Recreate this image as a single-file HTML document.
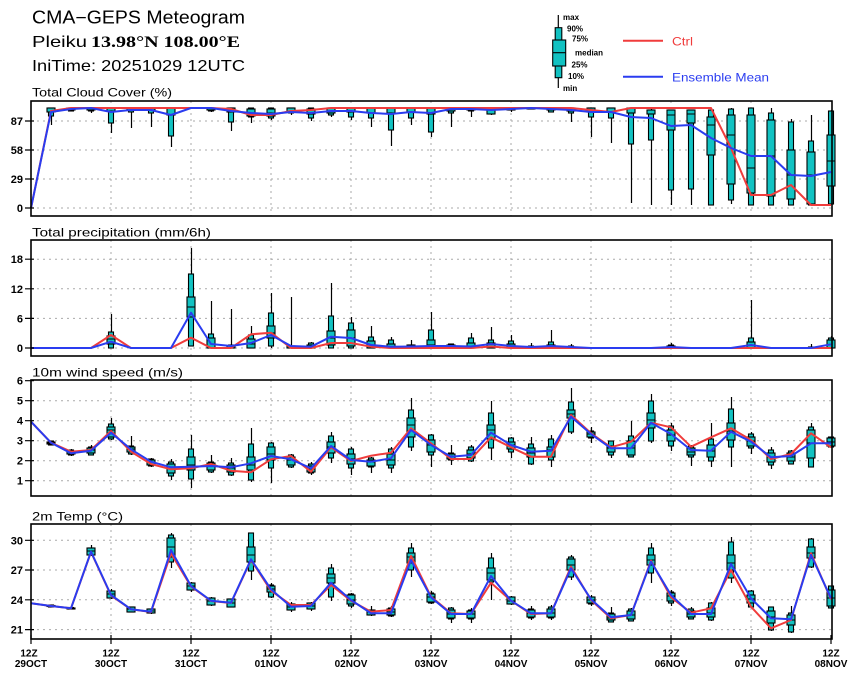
<!DOCTYPE html>
<html><head><meta charset="utf-8"><style>
html,body{margin:0;padding:0;background:#fff;}
svg{display:block;}
text{font-family:"Liberation Sans",Arial,sans-serif;fill:#000;}
.yl{font-size:11px;font-weight:bold;text-anchor:end;}
.xl{font-size:10px;font-weight:bold;text-anchor:middle;}
.pt{font-size:12px;}
.lg{font-size:8px;font-weight:bold;}
.g{stroke:#aaa;stroke-width:1;stroke-dasharray:2 4;fill:none;}
.w{stroke:#000;stroke-width:1.2;fill:none;}
.b rect{fill:#12c2c2;stroke:#000;stroke-width:1.1;}
.m{stroke:#000;stroke-width:1.1;fill:none;}
.r{stroke:#f03c3c;stroke-width:2;fill:none;stroke-linejoin:round;}
.bl{stroke:#2a3cf0;stroke-width:2;fill:none;stroke-linejoin:round;}
.fr{fill:none;stroke:#000;stroke-width:1.6;}
</style></head><body>
<svg width="860" height="678" viewBox="0 0 860 678" xmlns="http://www.w3.org/2000/svg">
<rect width="860" height="678" fill="#fff"/>
<!-- Titles -->
<text x="32" y="23.5" font-size="18" textLength="213" lengthAdjust="spacingAndGlyphs">CMA−GEPS Meteogram</text>
<text x="32" y="47" font-size="16" textLength="55" lengthAdjust="spacingAndGlyphs">Pleiku</text>
<text x="91" y="47" font-size="16" font-weight="bold" style="font-family:'Liberation Serif',serif" textLength="149" lengthAdjust="spacingAndGlyphs">13.98°N 108.00°E</text>
<text x="32" y="71" font-size="16" textLength="213" lengthAdjust="spacingAndGlyphs">IniTime: 20251029 12UTC</text>

<!-- Legend -->
<line x1="558.3" y1="15" x2="558.3" y2="88" class="w"/>
<g class="b"><rect x="555.2" y="27.7" width="6.6" height="50"/><rect x="552.7" y="40" width="13" height="26"/></g>
<line x1="552.7" y1="52.7" x2="565.7" y2="52.7" class="m"/>
<text class="lg" x="563" y="20">max</text>
<text class="lg" x="567" y="31.5">90%</text>
<text class="lg" x="572" y="41.5">75%</text>
<text class="lg" x="575" y="55.5">median</text>
<text class="lg" x="571.5" y="67.5">25%</text>
<text class="lg" x="568" y="79">10%</text>
<text class="lg" x="563" y="91">min</text>
<line x1="623" y1="40.7" x2="663" y2="40.7" class="r"/>
<text x="672" y="45.5" font-size="12" style="fill:#f03c3c" textLength="21" lengthAdjust="spacingAndGlyphs">Ctrl</text>
<line x1="623" y1="76.7" x2="663" y2="76.7" class="bl"/>
<text x="672" y="81.5" font-size="12" style="fill:#2a3cf0" textLength="97" lengthAdjust="spacingAndGlyphs">Ensemble Mean</text>

<!-- Panel titles -->
<text class="pt" x="32" y="96.5" textLength="140" lengthAdjust="spacingAndGlyphs">Total Cloud Cover (%)</text>
<text class="pt" x="32" y="236.5" textLength="179" lengthAdjust="spacingAndGlyphs">Total precipitation (mm/6h)</text>
<text class="pt" x="32" y="376.5" textLength="151" lengthAdjust="spacingAndGlyphs">10m wind speed (m/s)</text>
<text class="pt" x="32" y="520.5" textLength="91" lengthAdjust="spacingAndGlyphs">2m Temp (°C)</text>

<!-- Grids -->
<path class="g" d="M111 101V216M191 101V216M271 101V216M351 101V216M431 101V216M511 101V216M591 101V216M671 101V216M751 101V216
M31 121H832M31 150H832M31 179H832M31 208H832"/>
<path class="g" d="M111 240V356M191 240V356M271 240V356M351 240V356M431 240V356M511 240V356M591 240V356M671 240V356M751 240V356
M31 259.2H832M31 288.8H832M31 318.4H832M31 348H832"/>
<path class="g" d="M111 380V496M191 380V496M271 380V496M351 380V496M431 380V496M511 380V496M591 380V496M671 380V496M751 380V496
M31 400.7H832M31 420.7H832M31 440.7H832M31 460.7H832M31 480.7H832"/>
<path class="g" d="M111 524V639M191 524V639M271 524V639M351 524V639M431 524V639M511 524V639M591 524V639M671 524V639M751 524V639
M31 540.3H832M31 570H832M31 599.8H832M31 629.6H832"/>

<!-- Panel 1 boxes -->
<path class="w" transform="translate(0.5,0)" d="M51 108V125M71 108V111M91 108V113M111 108V133M131 108V128M151 108V127M171 108V147M211 108V112M231 108V131M251 108V123M271 108V120M291 108V115M311 108V121M331 108V117M351 108V120M371 108V127M391 108V146M411 108V125M431 108V137M451 108V127M471 108V117M491 108V115M511 108V112M531 108V109M551 108V112M571 108V122M591 108V137M611 108V143M631 108V203M651 108V205M671 110V205M691 110V205M711 110V205M731 108V204M751 108V205M771 108V205M791 119V205M811 115V205M831 110V204"/>
<g class="b">
<rect x="48.5" y="108" width="5" height="8"/><rect x="68.5" y="108" width="5" height="3"/><rect x="88.5" y="108" width="5" height="3"/><rect x="108.5" y="108" width="5" height="15"/><rect x="128.5" y="108" width="5" height="4"/><rect x="148.5" y="108" width="5" height="5"/><rect x="168.5" y="108" width="5" height="28"/><rect x="208.5" y="108" width="5" height="3"/><rect x="228.5" y="108" width="5" height="14"/><rect x="248.5" y="108" width="5" height="9"/><rect x="268.5" y="108" width="5" height="10"/><rect x="288.5" y="108" width="5" height="5"/><rect x="308.5" y="108" width="5" height="10"/><rect x="328.5" y="108" width="5" height="7"/><rect x="348.5" y="108" width="5" height="9"/><rect x="368.5" y="108" width="5" height="10"/><rect x="388.5" y="108" width="5" height="22"/><rect x="408.5" y="108" width="5" height="10"/><rect x="428.5" y="108" width="5" height="24"/><rect x="448.5" y="108" width="5" height="5"/><rect x="468.5" y="108" width="5" height="3"/><rect x="488.5" y="108" width="5" height="6"/><rect x="508.5" y="108" width="5" height="2"/><rect x="528.5" y="108" width="5" height="1"/><rect x="548.5" y="108" width="5" height="4"/><rect x="568.5" y="108" width="5" height="5"/><rect x="588.5" y="108" width="5" height="9"/><rect x="608.5" y="108" width="5" height="10"/><rect x="628.5" y="108" width="5" height="36"/><rect x="648.5" y="110" width="5" height="30"/><rect x="668.5" y="110" width="5" height="80"/><rect x="688.5" y="110" width="5" height="79"/><rect x="708.5" y="110" width="5" height="95"/><rect x="728.5" y="109" width="5" height="91"/><rect x="748.5" y="108" width="5" height="97"/><rect x="768.5" y="113" width="5" height="92"/><rect x="788.5" y="122" width="5" height="83"/><rect x="808.5" y="141" width="5" height="64"/><rect x="828.5" y="111" width="5" height="93"/>
<rect x="47" y="108" width="8" height="4"/><rect x="67" y="108" width="8" height="2"/><rect x="87" y="108" width="8" height="2"/><rect x="107" y="108" width="8" height="3"/><rect x="127" y="108" width="8" height="2"/><rect x="147" y="108" width="8" height="2"/><rect x="167" y="108" width="8" height="7"/><rect x="207" y="108" width="8" height="2"/><rect x="227" y="108" width="8" height="4"/><rect x="247" y="109" width="8" height="7"/><rect x="267" y="109" width="8" height="7"/><rect x="287" y="108" width="8" height="4"/><rect x="307" y="109" width="8" height="5"/><rect x="327" y="108" width="8" height="5"/><rect x="347" y="108" width="8" height="4"/><rect x="367" y="108" width="8" height="5"/><rect x="387" y="108" width="8" height="5"/><rect x="407" y="108" width="8" height="4"/><rect x="427" y="108" width="8" height="6"/><rect x="447" y="108" width="8" height="3"/><rect x="467" y="108" width="8" height="2"/><rect x="487" y="109" width="8" height="5"/><rect x="507" y="108" width="8" height="2"/><rect x="527" y="108" width="8" height="1"/><rect x="547" y="108" width="8" height="2"/><rect x="567" y="108" width="8" height="3"/><rect x="587" y="108" width="8" height="4"/><rect x="607" y="108" width="8" height="4"/><rect x="627" y="108" width="8" height="5"/><rect x="647" y="110" width="8" height="4"/><rect x="667" y="110" width="8" height="20"/><rect x="687" y="110" width="8" height="13"/><rect x="707" y="117" width="8" height="38"/><rect x="727" y="115" width="8" height="69"/><rect x="747" y="115" width="8" height="78"/><rect x="767" y="120" width="8" height="76"/><rect x="787" y="150" width="8" height="49"/><rect x="807" y="152" width="8" height="52"/><rect x="827" y="135" width="8" height="51"/>
</g>
<path class="m" d="M247 113h8M267 113h8M667 115h8M687 114h8M707 125h8M727 135h8M747 168h8M767 156h8M787 175h8M807 175h8M827 161h8"/>
<polyline class="r" points="31,208 51,111 71,108 91,108 111,108 131,108 151,108 171,108 191,108 211,108 231,109 251,115 271,115 291,111 311,110 331,108 351,108 371,108 391,108 411,108 431,108 451,108 471,108 491,108 511,108 531,108 551,108 571,108 591,110 611,112 631,108 651,108 671,108 691,108 711,108 731,148 751,195 771,195 791,185 811,205 831,205"/>
<polyline class="bl" points="31,208 51,112 71,109 91,108 111,112 131,110 151,110 171,115 191,108 211,108 231,111 251,113 271,114 291,112 311,113 331,111 351,111 371,113 391,114 411,112 431,113 451,109 471,109 491,110 511,109 531,108 551,109 571,110 591,112 611,112 631,117 651,118 671,126 691,125 711,138 731,148 751,156 771,156 791,175 811,176 831,172"/>

<!-- Panel 2 boxes -->
<path class="w" transform="translate(0.5,0)" d="M111 314V348M191 248V346M211 301V348M231 309V348M251 326V348M271 293V348M291 297V348M311 342V348M331 283V348M351 317V348M371 326V348M391 337V348M411 340V348M431 312V348M451 344V348M471 333V348M491 327V348M511 335V348M531 343V348M551 330V348M571 344V348M671 343V348M751 300V348M811 344V348M831 336V348"/>
<g class="b">
<rect x="108.5" y="332" width="5" height="16"/><rect x="188.5" y="274" width="5" height="72"/><rect x="208.5" y="334" width="5" height="14"/><rect x="228.5" y="345" width="5" height="3"/><rect x="248.5" y="335" width="5" height="13"/><rect x="268.5" y="313" width="5" height="33"/><rect x="288.5" y="346" width="5" height="2"/><rect x="308.5" y="343" width="5" height="5"/><rect x="328.5" y="316" width="5" height="32"/><rect x="348.5" y="323" width="5" height="25"/><rect x="368.5" y="337" width="5" height="11"/><rect x="388.5" y="340" width="5" height="8"/><rect x="408.5" y="345" width="5" height="3"/><rect x="428.5" y="330" width="5" height="18"/><rect x="448.5" y="344" width="5" height="4"/><rect x="468.5" y="338" width="5" height="10"/><rect x="488.5" y="340" width="5" height="8"/><rect x="508.5" y="341" width="5" height="7"/><rect x="528.5" y="346" width="5" height="2"/><rect x="548.5" y="342" width="5" height="6"/><rect x="568.5" y="346" width="5" height="2"/><rect x="668.5" y="345" width="5" height="3"/><rect x="748.5" y="338" width="5" height="10"/><rect x="808.5" y="347" width="5" height="1"/><rect x="828.5" y="338" width="5" height="10"/>
<rect x="107" y="336" width="8" height="8"/><rect x="187" y="297" width="8" height="20"/><rect x="207" y="338" width="8" height="10"/><rect x="227" y="346" width="8" height="2"/><rect x="247" y="339" width="8" height="9"/><rect x="267" y="326" width="8" height="12"/><rect x="287" y="346" width="8" height="2"/><rect x="307" y="345" width="8" height="3"/><rect x="327" y="331" width="8" height="14"/><rect x="347" y="330" width="8" height="16"/><rect x="367" y="341" width="8" height="7"/><rect x="387" y="344" width="8" height="4"/><rect x="407" y="345" width="8" height="3"/><rect x="427" y="340" width="8" height="8"/><rect x="447" y="345" width="8" height="3"/><rect x="467" y="343" width="8" height="5"/><rect x="487" y="343" width="8" height="5"/><rect x="507" y="344" width="8" height="4"/><rect x="527" y="347" width="8" height="1"/><rect x="547" y="345" width="8" height="3"/><rect x="567" y="347" width="8" height="1"/><rect x="667" y="346" width="8" height="2"/><rect x="747" y="342" width="8" height="6"/><rect x="827" y="340" width="8" height="8"/>
</g>
<path class="m" d="M107 339h8M187 307h8M247 344h8M267 333h8M327 338h8M347 338h8M427 345h8"/>
<polyline class="r" points="31,348 91,348 111,335 131,348 171,348 191,337.7 211,348 231,348 251,334.3 271,332.7 291,348 311,348 331,343 351,343 371,346.7 391,348 471,348 491,346.5 511,348 831,348"/>
<polyline class="bl" points="31,348 91,348 111,341.7 131,348 171,348 191,312.7 211,344 231,346 251,343 271,335 291,346 311,346.7 331,336.7 351,338 371,345 391,346.7 411,346.5 431,346 451,346 471,346.5 491,344 511,346 531,347 551,346 571,347 591,348 651,348 671,347 691,348 731,348 751,345 771,348 811,348 831,344.3"/>

<!-- Panel 3 boxes -->
<path class="w" transform="translate(0.5,0)" d="M51 441V445M71 449V456M91 445V455M111 418V440M131 436V455M151 458V467M171 459V480M191 435V488M211 455V473M231 458V476M251 428V482M271 442V483M291 454V468M311 462V475M331 432V463M351 447V475M371 457V473M391 447V473M411 398V451M431 434V467M451 445V465M471 445V462M491 401V460M511 437V458M531 437V465M551 435V467M571 388V434M591 427V443M611 441V458M631 421V457M651 394V443M671 423V451M691 445V466M711 423V467M731 397V467M751 432V454M771 447V469M791 450V464M811 423V467M831 437V447"/>
<g class="b">
<rect x="48.5" y="441" width="5" height="4"/><rect x="68.5" y="450" width="5" height="5"/><rect x="88.5" y="447" width="5" height="8"/><rect x="108.5" y="424" width="5" height="15"/><rect x="128.5" y="446" width="5" height="8"/><rect x="148.5" y="459" width="5" height="7"/><rect x="168.5" y="462" width="5" height="14"/><rect x="188.5" y="449" width="5" height="30"/><rect x="208.5" y="462" width="5" height="10"/><rect x="228.5" y="463" width="5" height="12"/><rect x="248.5" y="444" width="5" height="36"/><rect x="268.5" y="443" width="5" height="25"/><rect x="288.5" y="455" width="5" height="12"/><rect x="308.5" y="464" width="5" height="9"/><rect x="328.5" y="436" width="5" height="22"/><rect x="348.5" y="449" width="5" height="19"/><rect x="368.5" y="458" width="5" height="9"/><rect x="388.5" y="449" width="5" height="19"/><rect x="408.5" y="410" width="5" height="37"/><rect x="428.5" y="435" width="5" height="20"/><rect x="448.5" y="453" width="5" height="7"/><rect x="468.5" y="447" width="5" height="14"/><rect x="488.5" y="413" width="5" height="35"/><rect x="508.5" y="438" width="5" height="14"/><rect x="528.5" y="444" width="5" height="20"/><rect x="548.5" y="439" width="5" height="21"/><rect x="568.5" y="402" width="5" height="30"/><rect x="588.5" y="431" width="5" height="7"/><rect x="608.5" y="441" width="5" height="14"/><rect x="628.5" y="436" width="5" height="21"/><rect x="648.5" y="401" width="5" height="40"/><rect x="668.5" y="426" width="5" height="20"/><rect x="688.5" y="446" width="5" height="11"/><rect x="708.5" y="439" width="5" height="22"/><rect x="728.5" y="409" width="5" height="38"/><rect x="748.5" y="434" width="5" height="14"/><rect x="768.5" y="450" width="5" height="15"/><rect x="788.5" y="451" width="5" height="13"/><rect x="808.5" y="427" width="5" height="40"/><rect x="828.5" y="437" width="5" height="10"/>
<rect x="47" y="442" width="8" height="2"/><rect x="67" y="451" width="8" height="3"/><rect x="87" y="448" width="8" height="5"/><rect x="107" y="427" width="8" height="10"/><rect x="127" y="447" width="8" height="5"/><rect x="147" y="460" width="8" height="5"/><rect x="167" y="464" width="8" height="9"/><rect x="187" y="457" width="8" height="13"/><rect x="207" y="463" width="8" height="7"/><rect x="227" y="465" width="8" height="7"/><rect x="247" y="457" width="8" height="13"/><rect x="267" y="447" width="8" height="13"/><rect x="287" y="457" width="8" height="8"/><rect x="307" y="466" width="8" height="6"/><rect x="327" y="442" width="8" height="11"/><rect x="347" y="454" width="8" height="10"/><rect x="367" y="460" width="8" height="6"/><rect x="387" y="454" width="8" height="11"/><rect x="407" y="418" width="8" height="19"/><rect x="427" y="440" width="8" height="12"/><rect x="447" y="454" width="8" height="5"/><rect x="467" y="450" width="8" height="8"/><rect x="487" y="425" width="8" height="14"/><rect x="507" y="442" width="8" height="7"/><rect x="527" y="448" width="8" height="9"/><rect x="547" y="447" width="8" height="10"/><rect x="567" y="410" width="8" height="8"/><rect x="587" y="432" width="8" height="5"/><rect x="607" y="446" width="8" height="6"/><rect x="627" y="441" width="8" height="14"/><rect x="647" y="413" width="8" height="15"/><rect x="667" y="430" width="8" height="11"/><rect x="687" y="448" width="8" height="7"/><rect x="707" y="445" width="8" height="12"/><rect x="727" y="423" width="8" height="17"/><rect x="747" y="437" width="8" height="9"/><rect x="767" y="453" width="8" height="9"/><rect x="787" y="453" width="8" height="8"/><rect x="807" y="430" width="8" height="28"/><rect x="827" y="438" width="8" height="8"/>
</g>
<path class="m" d="M47 443h8M67 452h8M87 450h8M107 430h8M127 449h8M147 462h8M167 467h8M187 465h8M207 466h8M227 468h8M247 465h8M267 454h8M287 460h8M307 469h8M327 447h8M347 459h8M367 462h8M387 460h8M407 425h8M427 445h8M447 456h8M467 454h8M487 430h8M507 445h8M527 453h8M547 450h8M567 414h8M587 434h8M607 448h8M627 448h8M647 420h8M667 435h8M687 452h8M707 451h8M727 431h8M747 441h8M767 457h8M787 457h8M807 443h8M827 442h8"/>
<polyline class="r" points="31,421.7 51,442.7 71,451.7 91,450 111,431 131,451.7 151,464 171,469.3 191,468.3 211,464 231,470.7 251,472.3 271,459.3 291,456 311,471.7 331,447.3 351,461 371,455.7 391,452.7 411,428.3 431,443.3 451,459 471,459 491,437.3 511,447.3 531,456.7 551,456.7 571,415 591,433.3 611,447.3 631,441.7 651,422.7 671,427.3 691,446.7 711,437.3 731,428.3 751,440 771,459 791,454 811,433.3 831,447.3"/>
<polyline class="bl" points="31,421.7 51,442.7 71,453.3 91,450.7 111,432.7 131,449.3 151,461.7 171,467.3 191,466.7 211,466 231,467.3 251,463.3 271,456 291,459.3 311,468.3 331,446 351,460 371,461.7 391,458.3 411,430 431,445 451,456.7 471,455 491,432.7 511,445 531,451.7 551,450.7 571,416.7 591,434 611,448.3 631,448.3 651,422.7 671,434 691,450 711,450.7 731,431.7 751,441.7 771,457.3 791,456 811,443.3 831,443.3"/>

<!-- Panel 4 boxes -->
<path class="w" transform="translate(0.5,0)" d="M51 605V607M71 607V609M91 545V556M111 589V599M131 607V612M151 609V614M171 533V568M191 582V592M211 597V606M231 599V607M251 533V580M271 583V598M291 602V612M311 602V611M331 564V601M351 593V608M371 606V616M391 606V617M411 543V577M431 591V604M451 607V623M471 608V623M491 553V600M511 596V605M531 606V620M551 605V620M571 555V580M591 595V606M611 607V622M631 608V621M651 543V583M671 590V606M691 607V619M711 602V621M731 537V583M751 590V608M771 607V631M791 606V633M811 538V568M831 586V608"/>
<g class="b">
<rect x="48.5" y="605" width="5" height="2"/><rect x="68.5" y="607.5" width="5" height="1.5"/><rect x="88.5" y="548" width="5" height="7"/><rect x="108.5" y="591" width="5" height="7"/><rect x="128.5" y="607" width="5" height="5"/><rect x="148.5" y="609" width="5" height="4"/><rect x="168.5" y="535" width="5" height="27"/><rect x="188.5" y="583" width="5" height="7"/><rect x="208.5" y="598" width="5" height="7"/><rect x="228.5" y="599" width="5" height="8"/><rect x="248.5" y="533" width="5" height="38"/><rect x="268.5" y="585" width="5" height="12"/><rect x="288.5" y="604" width="5" height="6"/><rect x="308.5" y="603" width="5" height="6"/><rect x="328.5" y="568" width="5" height="29"/><rect x="348.5" y="594" width="5" height="12"/><rect x="368.5" y="610" width="5" height="5"/><rect x="388.5" y="608" width="5" height="8"/><rect x="408.5" y="548" width="5" height="22"/><rect x="428.5" y="593" width="5" height="10"/><rect x="448.5" y="608" width="5" height="11"/><rect x="468.5" y="610" width="5" height="9"/><rect x="488.5" y="558" width="5" height="24"/><rect x="508.5" y="597" width="5" height="7"/><rect x="528.5" y="609" width="5" height="9"/><rect x="548.5" y="607" width="5" height="11"/><rect x="568.5" y="557" width="5" height="20"/><rect x="588.5" y="597" width="5" height="7"/><rect x="608.5" y="613" width="5" height="9"/><rect x="628.5" y="609" width="5" height="12"/><rect x="648.5" y="548" width="5" height="25"/><rect x="668.5" y="592" width="5" height="11"/><rect x="688.5" y="609" width="5" height="10"/><rect x="708.5" y="603" width="5" height="17"/><rect x="728.5" y="542" width="5" height="36"/><rect x="748.5" y="591" width="5" height="16"/><rect x="768.5" y="607" width="5" height="23"/><rect x="788.5" y="613" width="5" height="19"/><rect x="808.5" y="539" width="5" height="28"/><rect x="828.5" y="586" width="5" height="22"/>
<rect x="47" y="605.5" width="8" height="1"/><rect x="67" y="608" width="8" height="1"/><rect x="87" y="548" width="8" height="7"/><rect x="107" y="591" width="8" height="7"/><rect x="127" y="607" width="8" height="5"/><rect x="147" y="609" width="8" height="4"/><rect x="167" y="538" width="8" height="19"/><rect x="187" y="583" width="8" height="7"/><rect x="207" y="598" width="8" height="7"/><rect x="227" y="599" width="8" height="8"/><rect x="247" y="547" width="8" height="15"/><rect x="267" y="586" width="8" height="6"/><rect x="287" y="604" width="8" height="6"/><rect x="307" y="603" width="8" height="6"/><rect x="327" y="574" width="8" height="9"/><rect x="347" y="595" width="8" height="9"/><rect x="367" y="610" width="8" height="5"/><rect x="387" y="609" width="8" height="6"/><rect x="407" y="553" width="8" height="10"/><rect x="427" y="594" width="8" height="8"/><rect x="447" y="610" width="8" height="8"/><rect x="467" y="611" width="8" height="7"/><rect x="487" y="568" width="8" height="12"/><rect x="507" y="597" width="8" height="7"/><rect x="527" y="610" width="8" height="7"/><rect x="547" y="609" width="8" height="8"/><rect x="567" y="559" width="8" height="11"/><rect x="587" y="597" width="8" height="6"/><rect x="607" y="614" width="8" height="6"/><rect x="627" y="611" width="8" height="8"/><rect x="647" y="555" width="8" height="10"/><rect x="667" y="593" width="8" height="8"/><rect x="687" y="611" width="8" height="6"/><rect x="707" y="608" width="8" height="9"/><rect x="727" y="555" width="8" height="15"/><rect x="747" y="595" width="8" height="8"/><rect x="767" y="611" width="8" height="12"/><rect x="787" y="615" width="8" height="10"/><rect x="807" y="547" width="8" height="11"/><rect x="827" y="590" width="8" height="16"/>
</g>
<path class="m" d="M87 551h8M107 594h8M127 609h8M147 611h8M167 547h8M187 586h8M207 601h8M227 603h8M247 555h8M267 589h8M287 607h8M307 606h8M327 578h8M347 600h8M367 612h8M387 612h8M407 557h8M427 597h8M447 614h8M467 614h8M487 573h8M507 601h8M527 613h8M547 613h8M567 565h8M587 600h8M607 618h8M627 615h8M647 560h8M667 596h8M687 614h8M707 613h8M727 563h8M747 599h8M767 617h8M787 620h8M807 553h8M827 598h8"/>
<polyline class="r" points="31,603.3 51,606 71,608.3 91,552 111,595.5 131,609.3 151,612 171,553.3 191,586.5 211,601 231,603 251,560 271,590.7 291,605 311,605 331,585 351,600.7 371,611.7 391,610 411,556 431,596.7 451,613.3 471,614 491,582.7 511,600.7 531,614 551,613.3 571,566.7 591,600 611,618.3 631,615 651,560.7 671,597.3 691,612.7 711,608.3 731,570 751,606.7 771,628.3 791,620 811,553.3 831,599.3"/>
<polyline class="bl" points="31,603.3 51,606 71,608.3 91,551.7 111,595 131,609.3 151,611.7 171,550 191,586 211,600.7 231,602.7 251,559.3 271,589.3 291,606.7 311,606 331,582.7 351,600 371,613.3 391,613.3 411,560 431,597.3 451,614 471,614 491,576 511,600.7 531,613.3 551,613.3 571,568.3 591,599.3 611,617.3 631,615 651,561.7 671,595 691,614 711,614 731,564 751,598.3 771,618.3 791,619.3 811,555 831,598.3"/>

<!-- Frames -->
<rect class="fr" x="31" y="101" width="801" height="115"/>
<rect class="fr" x="31" y="240" width="801" height="116"/>
<rect class="fr" x="31" y="380" width="801" height="116"/>
<rect class="fr" x="31" y="524" width="801" height="115"/>

<!-- Y ticks -->
<path class="w" stroke-width="1.4" d="M25 121H34M25 150H34M25 179H34M25 208H34
M25 259.2H34M25 288.8H34M25 318.4H34M25 348H34
M25 380.7H34M25 400.7H34M25 420.7H34M25 440.7H34M25 460.7H34M25 480.7H34
M25 540.3H34M25 570H34M25 599.8H34M25 629.6H34"/>
<text class="yl" x="23" y="125">87</text>
<text class="yl" x="23" y="154">58</text>
<text class="yl" x="23" y="183">29</text>
<text class="yl" x="23" y="212">0</text>
<text class="yl" x="23" y="263">18</text>
<text class="yl" x="23" y="293">12</text>
<text class="yl" x="23" y="322.5">6</text>
<text class="yl" x="23" y="352">0</text>
<text class="yl" x="23" y="384.5">6</text>
<text class="yl" x="23" y="404.5">5</text>
<text class="yl" x="23" y="424.5">4</text>
<text class="yl" x="23" y="444.5">3</text>
<text class="yl" x="23" y="464.5">2</text>
<text class="yl" x="23" y="484.5">1</text>
<text class="yl" x="23" y="544.3">30</text>
<text class="yl" x="23" y="574">27</text>
<text class="yl" x="23" y="604">24</text>
<text class="yl" x="23" y="633.5">21</text>

<!-- X ticks -->
<path class="w" stroke-width="1.4" d="M31 635V644M111 635V644M191 635V644M271 635V644M351 635V644M431 635V644M511 635V644M591 635V644M671 635V644M751 635V644M831 635V644"/>
<g class="xl">
<text x="29" y="656.5">12Z</text><text x="31" y="667">29OCT</text>
<text x="111" y="656.5">12Z</text><text x="111" y="667">30OCT</text>
<text x="191" y="656.5">12Z</text><text x="191" y="667">31OCT</text>
<text x="271" y="656.5">12Z</text><text x="271" y="667">01NOV</text>
<text x="351" y="656.5">12Z</text><text x="351" y="667">02NOV</text>
<text x="431" y="656.5">12Z</text><text x="431" y="667">03NOV</text>
<text x="511" y="656.5">12Z</text><text x="511" y="667">04NOV</text>
<text x="591" y="656.5">12Z</text><text x="591" y="667">05NOV</text>
<text x="671" y="656.5">12Z</text><text x="671" y="667">06NOV</text>
<text x="751" y="656.5">12Z</text><text x="751" y="667">07NOV</text>
<text x="831" y="656.5">12Z</text><text x="831" y="667">08NOV</text>
</g>
</svg>
</body></html>
